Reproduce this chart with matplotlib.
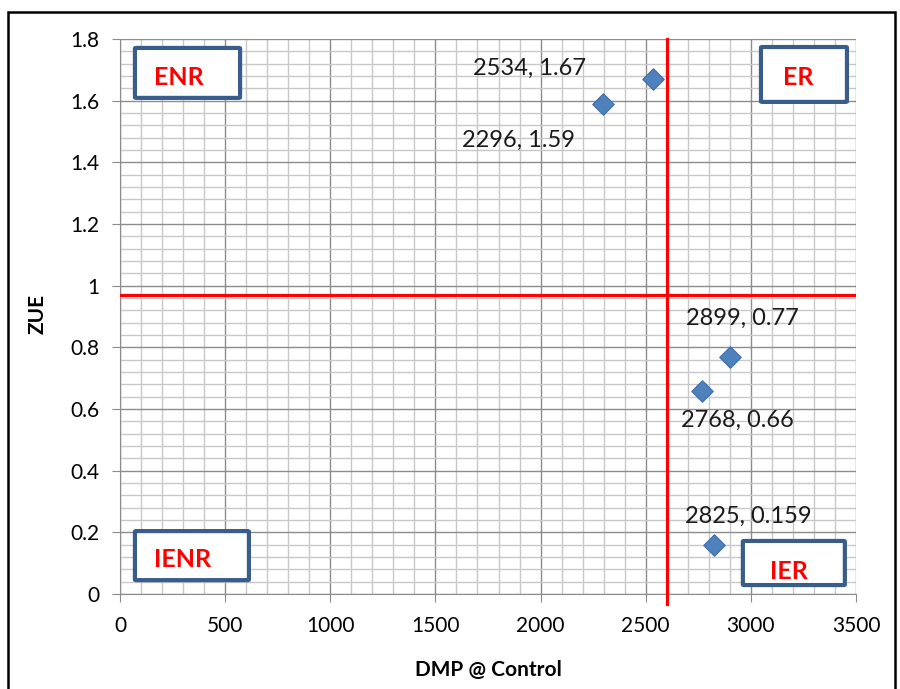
import matplotlib
matplotlib.use("Agg")
import matplotlib.pyplot as plt
from matplotlib.patches import FancyBboxPatch, Rectangle
from matplotlib.ticker import MultipleLocator, FuncFormatter

plt.rcParams['font.family'] = ['Lato', 'DejaVu Sans']

# data
dmp = [2534, 2296, 2899, 2768, 2825]
zue = [1.67, 1.59, 0.77, 0.66, 0.159]
point_labels = ['2534, 1.67', '2296, 1.59', '2899, 0.77', '2768, 0.66', '2825, 0.159']
dmp_cut = 2600
zue_cut = 0.97
quadrants = ['ENR', 'ER', 'IENR', 'IER']

# label offsets (pixels) and quadrant boxes (data coords)
label_offsets = [(-123, 11), (-84, -37), (13, 38), (35, -30), (34, 29)]
boxes = [(71, 1.609, 500, 0.162), (3048, 1.596, 409, 0.178),
         (71, 0.045, 542, 0.159), (2962, 0.029, 485, 0.143)]
text_pos = [(0.42, 0.4), (0.43, 0.45), (0.42, 0.42), (0.45, 0.3)]

fig = plt.figure(figsize=(9, 6.89), dpi=100)
ax = fig.add_axes([120/900, 1-594/689, 736/900, 555/689])

ax.set_xlim(0, 3500)
ax.set_ylim(0, 1.8)
ax.xaxis.set_major_locator(MultipleLocator(500))
ax.xaxis.set_minor_locator(MultipleLocator(100))
ax.yaxis.set_major_locator(MultipleLocator(0.2))
ax.yaxis.set_minor_locator(MultipleLocator(0.04))
ax.yaxis.set_major_formatter(FuncFormatter(lambda v, p: f'{v:.1f}'.rstrip('0').rstrip('.') if v else '0'))

ax.grid(which='major', color='#8c8c8c', lw=1.0)
ax.grid(which='minor', color='#c8c8c8', lw=1.0)
ax.set_axisbelow(True)
for s in ['top', 'right']:
    ax.spines[s].set_visible(False)
for s in ['left', 'bottom']:
    ax.spines[s].set_color('#8c8c8c')
ax.tick_params(which='major', direction='out', length=6, color='#8c8c8c', labelsize=15)
ax.tick_params(which='minor', length=0)
ax.tick_params(axis='x', pad=10)
ax.tick_params(axis='y', pad=9)

ax.axvline(dmp_cut, ymin=-0.018, ymax=1, color='red', lw=2.3, clip_on=False, zorder=3)
ax.axhline(zue_cut, color='red', lw=2.3, zorder=3)

ax.scatter(dmp, zue, marker='D', s=120, color='#4f81bd', edgecolor='#3f6fa8', lw=0.8, zorder=4)
for x, y, t, off in zip(dmp, zue, point_labels, label_offsets):
    ax.annotate(t, (x, y), xytext=off, textcoords='offset pixels',
                ha='center', va='center', fontsize=17, color='#1a1a1a', zorder=5)

for (bx, by, bw, bh), name, (tx, ty) in zip(boxes, quadrants, text_pos):
    ax.add_patch(FancyBboxPatch((bx, by), bw, bh, boxstyle='round,pad=0,rounding_size=8',
                                mutation_aspect=1/4000, fc='white', ec='#385d8a', lw=3, zorder=5))
    ax.text(bx + bw*tx, by + bh*ty, name, color='red', fontsize=18, fontweight='bold',
            ha='center', va='center', zorder=6)

ax.set_xlabel('DMP @ Control', fontsize=15, fontweight='bold', labelpad=17)
ax.set_ylabel('ZUE', fontsize=15, fontweight='bold')
ax.yaxis.set_label_coords(-0.099, 0.505)

fig.patches.append(Rectangle((8/900, -0.05), 887/900, 1.05 - 12/689, transform=fig.transFigure,
                             fill=False, ec='black', lw=1.8))

fig.savefig('out.png', dpi=100)
